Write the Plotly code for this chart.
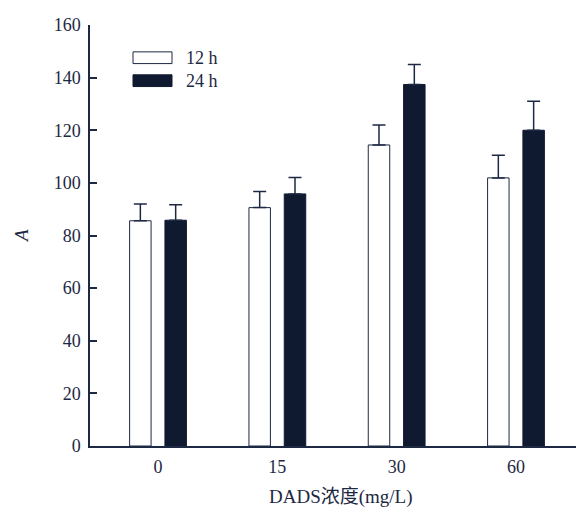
import plotly.graph_objects as go

categories = ["0", "15", "30", "60"]
series_names = ["12 h", "24 h"]
values_12h = [85.6, 90.6, 114.4, 101.9]
errors_12h = [6.4, 6.1, 7.6, 8.6]
values_24h = [85.8, 95.8, 137.4, 120.0]
errors_24h = [5.9, 6.2, 7.6, 11.0]
y_ticks = [0, 20, 40, 60, 80, 100, 120, 140, 160]
x_title = "DADS浓度(mg/L)"
y_title = "A"

INK = "#1d2843"
DARK = "#0f1a30"
FONT = "Liberation Serif, Times New Roman, Noto Sans CJK SC, serif"

fig = go.Figure()
fig.add_trace(go.Bar(
    x=categories, y=values_12h, name=series_names[0],
    marker=dict(color="white", line=dict(color=INK, width=1)),
    error_y=dict(type="data", array=errors_12h, arrayminus=[0]*4, symmetric=False,
                 color=INK, thickness=1.5, width=6.5),
    showlegend=False,
))
fig.add_trace(go.Bar(
    x=categories, y=values_24h, name=series_names[1],
    marker=dict(color=DARK, line=dict(color=DARK, width=1)),
    error_y=dict(type="data", array=errors_24h, arrayminus=[0]*4, symmetric=False,
                 color=INK, thickness=1.5, width=6.5),
    showlegend=False,
))

# page offset (body margin) compensation
OFF = 8
W, H = 584, 513
L, R, T, B = 90 - OFF, OFF, 15 - OFF, H - (446 - OFF)
pw = W - L - R
ph = H - T - B

def px_x(p):
    return (p - OFF - L) / pw

def px_y(p):
    return 1 - (p - OFF - T) / ph

shapes = [
    dict(type="rect", xref="paper", yref="paper",
         x0=px_x(133), x1=px_x(172), y0=px_y(54.5), y1=px_y(42.5),
         line=dict(color=INK, width=1), fillcolor="white"),
    dict(type="rect", xref="paper", yref="paper",
         x0=px_x(133), x1=px_x(172), y0=px_y(78), y1=px_y(66),
         line=dict(color=DARK, width=1), fillcolor=DARK),
]
annotations = [
    dict(text=series_names[0], xref="paper", yref="paper", x=px_x(184), y=px_y(48.5),
         xanchor="left", yanchor="middle", showarrow=False, font=dict(size=18, color=INK, family=FONT)),
    dict(text=series_names[1], xref="paper", yref="paper", x=px_x(184), y=px_y(72),
         xanchor="left", yanchor="middle", showarrow=False, font=dict(size=18, color=INK, family=FONT)),
    dict(text=x_title, xref="paper", yref="paper", x=px_x(341), y=px_y(498),
         xanchor="center", yanchor="middle", showarrow=False, font=dict(size=19, color=INK, family=FONT)),
    dict(text="<i>" + y_title + "</i>", xref="paper", yref="paper", x=px_x(22), y=px_y(231),
         xanchor="center", yanchor="middle", textangle=-90, showarrow=False,
         font=dict(size=19, color=INK, family=FONT, style="italic")),
]

fig.update_layout(
    width=W, height=H,
    margin=dict(l=L, r=R, t=T, b=B, pad=0),
    paper_bgcolor="white", plot_bgcolor="white",
    barmode="group", bargap=0.408, bargroupgap=0.392,
    shapes=shapes, annotations=annotations,
    font=dict(family=FONT, size=18, color=INK),
    xaxis=dict(range=[-0.57, 3.57], showgrid=False, zeroline=False, showline=True,
               linecolor=INK, linewidth=1.5, ticks="", tickfont=dict(size=18, color=INK, family=FONT),
               ticklabelstandoff=4),
    yaxis=dict(range=[0, 160], tickvals=y_ticks, showgrid=False, zeroline=False, showline=True,
               linecolor=INK, linewidth=1.5, ticks="inside", ticklen=7, tickwidth=1.5, tickcolor=INK,
               tickfont=dict(size=18, color=INK, family=FONT), ticklabelstandoff=4,
               ticklabeloverflow="allow"),
)

fig.write_html("out.html")
